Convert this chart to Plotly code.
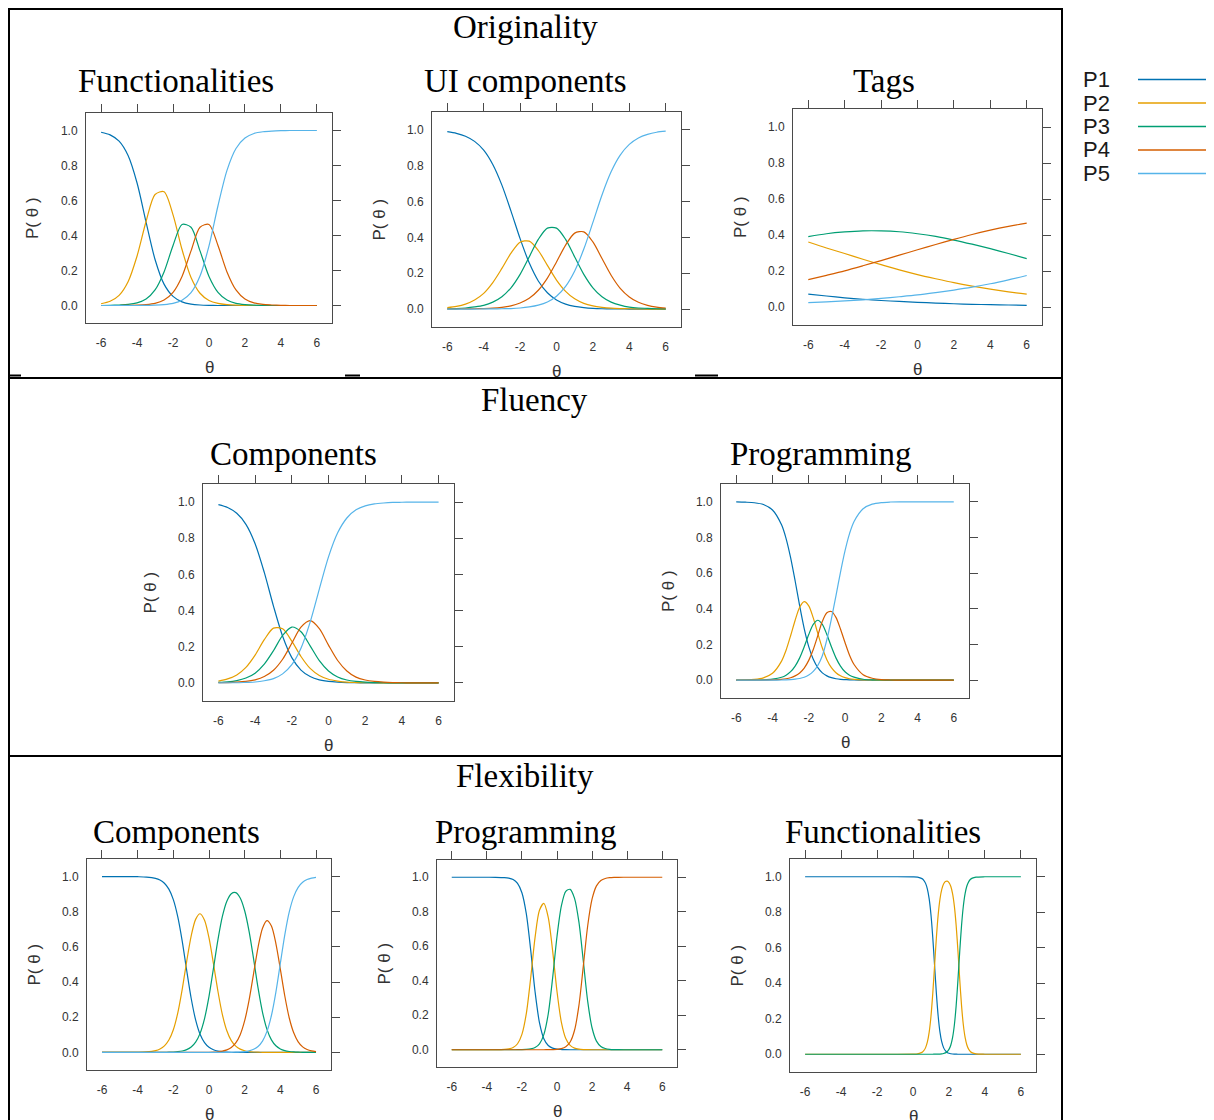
import plotly.graph_objects as go

# ---------------- data ----------------
CATEGORIES = ["P1", "P2", "P3", "P4", "P5"]
SECTION_TITLES = ["Originality", "Fluency", "Flexibility"]
X_TICKS = [-6, -4, -2, 0, 2, 4, 6]
X_TICK_TEXT = ["-6", "-4", "-2", "0", "2", "4", "6"]
Y_TICKS = [0.0, 0.2, 0.4, 0.6, 0.8, 1.0]
Y_TICK_TEXT = ["0.0", "0.2", "0.4", "0.6", "0.8", "1.0"]

# common theta grid (step 0.5)
theta_half = [-6.0, -5.5, -5.0, -4.5, -4.0, -3.5, -3.0, -2.5, -2.0, -1.5, -1.0, -0.5,
              0.0, 0.5, 1.0, 1.5, 2.0, 2.5, 3.0, 3.5, 4.0, 4.5, 5.0, 5.5, 6.0]

# Originality - Functionalities
orig_func_P1 = [.990, .975, .939, .857, .700, .477, .263, .122, .052, .021, .008, .003, .001, 0, 0, 0, 0, 0, 0, 0, 0, 0, 0, 0, 0]
orig_func_P2 = [.010, .024, .058, .136, .283, .480, .634, .650, .518, .320, .160, .070, .029, .012, .005, .002, .001, 0, 0, 0, 0, 0, 0, 0, 0]
orig_func_P3 = [0, .001, .003, .006, .015, .037, .089, .192, .343, .463, .447, .312, .166, .075, .031, .012, .005, .002, .001, 0, 0, 0, 0, 0, 0]
orig_func_P4 = [0, 0, 0, .001, .002, .005, .012, .031, .075, .166, .312, .447, .463, .343, .192, .089, .037, .015, .006, .003, .001, 0, 0, 0, 0]
orig_func_P5 = [0, 0, 0, 0, 0, .001, .002, .005, .012, .030, .073, .168, .341, .570, .772, .897, .957, .983, .993, .997, .999, 1, 1, 1, 1]

# Originality - UI components
orig_ui_P1 = [.990, .981, .965, .936, .887, .807, .692, .547, .393, .258, .157, .091, .051, .028, .015, .008, .004, .002, .001, .001, 0, 0, 0, 0, 0]
orig_ui_P2 = [.008, .015, .028, .051, .088, .148, .227, .312, .373, .379, .327, .244, .162, .099, .057, .032, .018, .010, .005, .003, .002, .001, 0, 0, 0]
orig_ui_P3 = [.002, .003, .006, .012, .021, .039, .069, .119, .194, .291, .389, .452, .452, .389, .291, .194, .119, .069, .039, .022, .011, .006, .004, .002, .001]
orig_ui_P4 = [0, 0, .001, .002, .003, .005, .010, .018, .034, .060, .105, .173, .263, .357, .424, .431, .375, .282, .189, .116, .068, .038, .021, .011, .006]
orig_ui_P5 = [0, 0, 0, 0, .001, .001, .002, .003, .006, .012, .022, .040, .072, .127, .213, .335, .484, .637, .766, .859, .919, .955, .975, .987, .993]

# Originality - Tags (step 1)
theta_tags = [-6, -5, -4, -3, -2, -1, 0, 1, 2, 3, 4, 5, 6]
orig_tags_P1 = [.072, .061, .051, .043, .036, .031, .026, .022, .018, .015, .013, .011, .009]
orig_tags_P2 = [.361, .328, .297, .265, .235, .206, .180, .157, .135, .116, .099, .084, .072]
orig_tags_P3 = [.391, .407, .417, .423, .423, .418, .407, .392, .372, .349, .324, .297, .269]
orig_tags_P4 = [.152, .176, .201, .229, .258, .288, .318, .347, .376, .403, .427, .448, .466]
orig_tags_P5 = [.024, .029, .034, .040, .048, .057, .067, .080, .094, .110, .129, .151, .175]

# Fluency - Components
flu_comp_P1 = [.986, .970, .938, .877, .770, .611, .425, .258, .140, .071, .035, .017, .008, .004, .002, .001, 0, 0, 0, 0, 0, 0, 0, 0, 0]
flu_comp_P2 = [.010, .022, .044, .086, .154, .239, .303, .299, .231, .146, .080, .041, .020, .010, .004, .002, .001, .001, 0, 0, 0, 0, 0, 0, 0]
flu_comp_P3 = [.003, .006, .013, .027, .054, .104, .178, .263, .309, .283, .205, .123, .066, .033, .016, .008, .004, .002, .001, 0, 0, 0, 0, 0, 0]
flu_comp_P4 = [.001, .002, .004, .008, .017, .035, .070, .131, .219, .308, .344, .300, .209, .124, .066, .032, .016, .008, .004, .002, .001, 0, 0, 0, 0]
flu_comp_P5 = [0, .001, .001, .003, .005, .012, .024, .050, .101, .192, .336, .519, .697, .830, .912, .957, .979, .990, .995, .998, .999, 1, 1, 1, 1]

# Fluency - Programming
theta_flu_prog = [-6, -5.5, -5, -4.5, -4, -3.5, -3.25, -3, -2.75, -2.5, -2.25, -2, -1.75, -1.5, -1.25, -1,
                  -0.75, -0.5, -0.25, 0, 0.25, 0.5, 1, 1.5, 2, 2.5, 3, 3.5, 4, 4.5, 5, 5.5, 6]
flu_prog_P1 = [.9995, .998, .995, .985, .954, .871, .794, .687, .556, .416, .289, .188, .117, .070, .041, .024,
               .014, .008, .0045, .003, .0015, .001, 0, 0, 0, 0, 0, 0, 0, 0, 0, 0, 0]
flu_prog_P2 = [.0004, .0014, .0042, .013, .0385, .107, .168, .249, .336, .409, .440, .417, .349, .262, .180, .115,
               .070, .042, .0245, .014, .008, .005, .002, .001, 0, 0, 0, 0, 0, 0, 0, 0, 0]
flu_prog_P3 = [.0001, .0001, .0006, .0017, .0054, .0163, .028, .0476, .079, .125, .187, .256, .313, .336, .313, .256,
               .187, .125, .079, .047, .028, .017, .005, .002, .001, 0, 0, 0, 0, 0, 0, 0, 0]
flu_prog_P4 = [0, 0, .0002, .0005, .0015, .0045, .0078, .0136, .024, .0405, .068, .111, .172, .250, .330, .378,
               .385, .352, .287, .211, .140, .088, .031, .011, .003, .001, 0, 0, 0, 0, 0, 0, 0]
flu_prog_P5 = [0, 0, 0, .0001, .0003, .001, .0018, .0031, .0054, .0094, .016, .0284, .049, .0825, .137, .227,
               .344, .473, .605, .725, .822, .890, .9615, .987, .996, .999, 1, 1, 1, 1, 1, 1, 1]

# Flexibility - Components
theta_flex_comp = [-6, -5, -4, -3.5, -3, -2.75, -2.5, -2.25, -2, -1.75, -1.5, -1.25, -1, -0.75, -0.5, -0.25,
                   0, 0.25, 0.5, 0.75, 1, 1.25, 1.5, 1.75, 2, 2.25, 2.5, 2.75, 3, 3.25, 3.5, 3.75, 4, 4.25,
                   4.5, 4.75, 5, 5.25, 5.5, 5.75, 6]
flex_comp_P1 = [1, 1, .9993, .9974, .9899, .9804, .9623, .9286, .869, .771, .632, .466, .308, .185, .103, .0554,
                .029, .015, .0077, .0039, .002, .001, .0005, 0, 0, 0, 0, 0, 0, 0, 0, 0, 0, 0, 0, 0, 0, 0, 0, 0, 0]
flex_comp_P2 = [0, 0, .0007, .0026, .0100, .0193, .0371, .0703, .1289, .2246, .3599, .5182, .6614, .7567, .7885, .7516,
                .651, .505, .348, .2151, .123, .067, .0355, .0185, .0095, .0049, .0025, .0013, .0006, 0, 0, 0, 0, 0,
                0, 0, 0, 0, 0, 0, 0]
flex_comp_P3 = [0, 0, 0, 0, .0001, .0003, .0006, .0011, .0021, .0042, .0081, .0158, .0306, .0583, .1082, .1925,
                .319, .478, .6401, .7733, .86, .903, .9086, .8781, .8055, .6871, .5315, .3667, .2284, .131, .0714,
                .0377, .0196, .0101, .0052, .0026, .0013, .0007, 0, 0, 0]
flex_comp_P4 = [0, 0, 0, 0, 0, 0, 0, 0, 0, 0, 0, 0, 0, 0, .0003, .0005,
                .001, .002, .0039, .0077, .0147, .0284, .0542, .101, .1804, .299, .4484, .598, .7064, .7495, .7186,
                .6193, .4734, .3209, .1958, .1114, .0601, .0316, .0167, .0086, .0044]
flex_comp_P5 = [0, 0, 0, 0, 0, 0, 0, 0, 0, 0, 0, 0, 0, 0, 0, 0,
                0, 0, 0, 0, .0003, .0006, .0012, .0024, .0046, .009, .0176, .034, .0646, .1195, .21,
                .343, .507, .669, .799, .886, .9386, .9677, .9833, .9914, .9956]

# Flexibility - Programming
theta_flex_prog = [-6, -5, -4, -3.5, -3, -2.75, -2.5, -2.25, -2, -1.75, -1.5, -1.25, -1, -0.75, -0.5, -0.25,
                   0, 0.25, 0.5, 0.75, 1, 1.25, 1.5, 1.75, 2, 2.25, 2.5, 2.75, 3, 3.25, 3.5, 4, 5, 6]
flex_prog_P1 = [1, 1, 1, .9998, .9982, .9951, .9869, .9651, .9105, .789, .579, .336, .157, .064, .0246, .0092,
                .0034, .0013, .0005, 0, 0, 0, 0, 0, 0, 0, 0, 0, 0, 0, 0, 0, 0, 0]
flex_prog_P2 = [0, 0, 0, .0002, .0018, .0049, .013, .0347, .0889, .2092, .4162, .6511, .8088, .8481, .7679, .575,
                .3376, .1587, .0649, .0251, .0094, .0035, .0013, .0005, 0, 0, 0, 0, 0, 0, 0, 0, 0, 0]
flex_prog_P3 = [0, 0, 0, 0, 0, 0, .0001, .0002, .0006, .0018, .0048, .0129, .0342, .0878, .2072, .4149,
                .6567, .8337, .9176, .9301, .8776, .7395, .5137, .2805, .126, .05, .019, .0071, .0026, .001, .0004,
                0, 0, 0]
flex_prog_P4 = [0, 0, 0, 0, 0, 0, 0, 0, 0, 0, 0, 0, 0, .0001, .0003, .0009,
                .0023, .0063, .017, .0448, .113, .257, .485, .719, .874, .95, .981, .9929, .9974, .999, .9996,
                1, 1, 1]

# Flexibility - Functionalities
theta_flex_func = [-6, -4, -2, 0, 0.25, 0.5, 0.6, 0.7, 0.8, 0.9, 1.0, 1.1, 1.2, 1.3, 1.4, 1.5, 1.6, 1.7, 1.8,
                   1.9, 2.0, 2.1, 2.2, 2.3, 2.4, 2.5, 2.6, 2.7, 2.8, 2.9, 3.0, 3.1, 3.2, 3.3, 3.5, 4, 5, 6]
flex_func_P1 = [1, 1, 1, .9996, .9979, .9895, .9802, .9627, .9309, .8754, .7858, .657, .5, .343, .2142, .1246,
                .0691, .0373, .0198, .0105, .0055, .0029, .0015, .0008, .0004, 0, 0, 0, 0, 0, 0, 0, 0, 0,
                0, 0, 0, 0]
flex_func_P2 = [0, 0, 0, .0004, .0021, .0105, .0198, .0373, .0691, .1246, .2142, .3429, .4998, .6567, .7852, .8743,
                .9288, .9587, .9726, .9751, .9673, .9462, .9052, .8347, .7257, .5805, .4195, .2739, .1645, .0933,
                .0509, .0272, .0144, .0076, .0021, .0001, 0, 0]
flex_func_P3 = [0, 0, 0, 0, 0, 0, 0, 0, 0, 0, 0, .0001, .0002, .0003, .0006, .0011,
                .0021, .004, .0076, .0144, .0272, .0509, .0933, .1645, .2739, .4195, .5805, .7261, .8355, .9067,
                .9491, .9728, .9856, .9924, .9979, .9999, 1, 1]

# ---------------- styling / layout ----------------
# the page body adds an 8px offset; positions below are screen pixels of the reference
OFF = 8
W, H = 1214 - OFF, 1120 - OFF
COLORS = ["#0072B2", "#E69F00", "#009E73", "#D55E00", "#56B4E9"]
AX_COL = "#4a4a4a"
TXT_COL = "#333333"
XR = [-6.84, 6.84]
YR = [-0.1, 1.1]

panels = [
    dict(title="Functionalities", cx=176, theta=theta_half,
         series=[orig_func_P1, orig_func_P2, orig_func_P3, orig_func_P4, orig_func_P5], box=(86, 113, 332, 323)),
    dict(title="UI components", cx=525, theta=theta_half,
         series=[orig_ui_P1, orig_ui_P2, orig_ui_P3, orig_ui_P4, orig_ui_P5], box=(432, 112, 681, 327)),
    dict(title="Tags", cx=884, theta=theta_tags,
         series=[orig_tags_P1, orig_tags_P2, orig_tags_P3, orig_tags_P4, orig_tags_P5], box=(793, 109, 1042, 325)),
    dict(title="Components", cx=293, theta=theta_half,
         series=[flu_comp_P1, flu_comp_P2, flu_comp_P3, flu_comp_P4, flu_comp_P5], box=(203, 484, 454, 701)),
    dict(title="Programming", cx=820, theta=theta_flu_prog,
         series=[flu_prog_P1, flu_prog_P2, flu_prog_P3, flu_prog_P4, flu_prog_P5], box=(721, 484, 969, 698)),
    dict(title="Components", cx=176, theta=theta_flex_comp,
         series=[flex_comp_P1, flex_comp_P2, flex_comp_P3, flex_comp_P4, flex_comp_P5], box=(87, 859, 331, 1070)),
    dict(title="Programming", cx=525, theta=theta_flex_prog,
         series=[flex_prog_P1, flex_prog_P2, flex_prog_P3, flex_prog_P4], box=(437, 860, 677, 1067)),
    dict(title="Functionalities", cx=883, theta=theta_flex_func,
         series=[flex_func_P1, flex_func_P2, flex_func_P3], box=(790, 859, 1036, 1072)),
]
panel_title_y = [81, 81, 81, 454, 454, 832, 832, 832]
section_pos = [(525, 27), (534, 400), (525, 776)]


def px(x):
    return (x - OFF) / W


def py(y):
    return 1 - (y - OFF) / H


fig = go.Figure()
layout = dict(width=W, height=H, margin=dict(l=0, r=0, t=0, b=0),
              paper_bgcolor="white", plot_bgcolor="rgba(0,0,0,0)", showlegend=False)
annotations = []
shapes = []
N = len(panels)
tick_font = dict(family="Liberation Sans, Arial, sans-serif", size=12, color=TXT_COL)
title_font = dict(family="Liberation Serif, Times New Roman, serif", size=33, color="black")
axis_title_font = dict(family="Liberation Sans, Arial, sans-serif", size=17, color=TXT_COL)

for i, p in enumerate(panels, start=1):
    l, t, r, b = p["box"]
    sfx = "" if i == 1 else str(i)
    j = str(i + N)
    xd = [px(l), px(r)]
    yd = [py(b), py(t)]
    # frame + top / right ticks
    layout["xaxis" + sfx] = dict(domain=xd, range=XR, anchor="y" + sfx, side="top",
                                 tickvals=X_TICKS, ticks="outside", ticklen=8, tickcolor=AX_COL,
                                 showticklabels=False, showline=True, linecolor=AX_COL, linewidth=1,
                                 mirror=True, showgrid=False, zeroline=False, fixedrange=True)
    layout["yaxis" + sfx] = dict(domain=yd, range=YR, anchor="x" + sfx, side="right",
                                 tickvals=Y_TICKS, ticks="outside", ticklen=8, tickcolor=AX_COL,
                                 showticklabels=False, showline=True, linecolor=AX_COL, linewidth=1,
                                 mirror=True, showgrid=False, zeroline=False, fixedrange=True)
    # labelled bottom / left axes (overlaid, no tick marks)
    layout["xaxis" + j] = dict(overlaying="x" + sfx, anchor="y" + j, side="bottom", range=XR,
                               tickvals=X_TICKS, ticktext=X_TICK_TEXT, ticks="outside", ticklen=9,
                               tickcolor="rgba(0,0,0,0)", tickfont=tick_font, showline=False,
                               showgrid=False, zeroline=False, fixedrange=True)
    layout["yaxis" + j] = dict(overlaying="y" + sfx, anchor="x" + j, side="left", range=YR,
                               tickvals=Y_TICKS, ticktext=Y_TICK_TEXT, ticks="outside", ticklen=5,
                               tickcolor="rgba(0,0,0,0)", tickfont=tick_font, showline=False,
                               showgrid=False, zeroline=False, fixedrange=True)
    fig.add_trace(go.Scatter(x=[None], y=[None], mode="lines", xaxis="x" + j, yaxis="y" + j,
                             hoverinfo="skip", showlegend=False))
    for k, ys in enumerate(p["series"]):
        fig.add_trace(go.Scatter(x=p["theta"], y=ys, mode="lines", name=CATEGORIES[k],
                                 line=dict(color=COLORS[k], width=1.2, shape="spline", smoothing=0.8),
                                 xaxis="x" + sfx, yaxis="y" + sfx, hoverinfo="skip"))
    # panel title
    annotations.append(dict(text=p["title"], x=px(p["cx"]), y=py(panel_title_y[i - 1]), xref="paper",
                            yref="paper", xanchor="center", yanchor="middle", showarrow=False,
                            font=title_font))
    # axis titles
    annotations.append(dict(text="θ", x=px((l + r) / 2), y=py(b + 44), xref="paper", yref="paper",
                            xanchor="center", yanchor="middle", showarrow=False, font=axis_title_font))
    annotations.append(dict(text="P( θ )", x=px(l - 53), y=py((t + b) / 2), xref="paper", yref="paper",
                            xanchor="center", yanchor="middle", showarrow=False, textangle=-90,
                            font=axis_title_font))

for name, (sx, sy) in zip(SECTION_TITLES, section_pos):
    annotations.append(dict(text=name, x=px(sx), y=py(sy), xref="paper", yref="paper",
                            xanchor="center", yanchor="middle", showarrow=False, font=title_font))

# section frames
for (y0, y1) in [(9, 378), (378, 756), (756, 1130)]:
    shapes.append(dict(type="rect", xref="paper", yref="paper", x0=px(9), x1=px(1062), y0=py(y1), y1=py(y0),
                       line=dict(color="black", width=2), fillcolor="rgba(0,0,0,0)"))
for (x0, x1) in [(10, 21), (345, 360), (695, 718)]:
    shapes.append(dict(type="line", xref="paper", yref="paper", x0=px(x0), x1=px(x1), y0=py(375.5), y1=py(375.5),
                       line=dict(color="black", width=2)))

# legend (text left, line sample right)
legend_y = [79.5, 103, 126.5, 150, 173.5]
for k, name in enumerate(CATEGORIES):
    annotations.append(dict(text=name, x=px(1081), y=py(legend_y[k]), xref="paper", yref="paper",
                            xanchor="left", yanchor="middle", showarrow=False,
                            font=dict(family="Liberation Sans, Arial, sans-serif", size=22, color="#1a1a1a")))
    shapes.append(dict(type="line", xref="paper", yref="paper", x0=px(1138), x1=px(1208),
                       y0=py(legend_y[k]), y1=py(legend_y[k]), line=dict(color=COLORS[k], width=1.5)))

layout["annotations"] = annotations
layout["shapes"] = shapes
fig.update_layout(**layout)
fig.write_html("out.html")
